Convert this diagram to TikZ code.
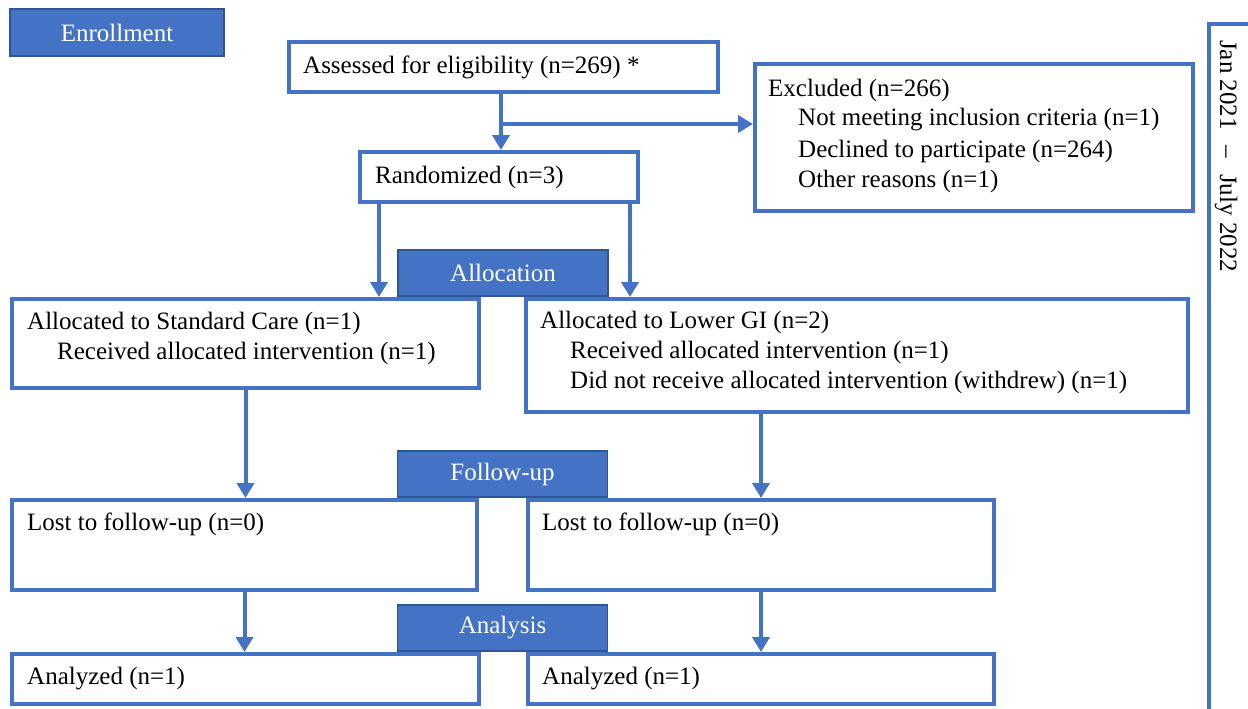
\documentclass[tikz,border=0pt]{standalone}
\usepackage{fontspec}
\setmainfont{Liberation Serif}
\usetikzlibrary{arrows.meta}
\definecolor{cblue}{HTML}{4472C4}
\definecolor{cdark}{HTML}{2F5597}
\begin{document}
\begin{tikzpicture}[x=1pt,y=-1pt,
  box/.style={draw=cblue, line width=4pt, fill=white, inner sep=0pt},
  phase/.style={draw=cdark, line width=1.5pt, fill=cblue, text=white, inner sep=0pt,
    minimum width=210pt, minimum height=46pt, font=\fontsize{25}{30}\selectfont},
  txt/.style={anchor=west, inner sep=0pt, font=\fontsize{25}{30}\selectfont},
  arr/.style={draw=cblue, line width=4pt, -{Triangle[width=17pt,length=15pt]}}]
\useasboundingbox (0,0) rectangle (1248,709);
\begin{scope}
\clip (0,0) rectangle (1248,709);
\draw[cblue, line width=4pt, fill=white] (1209,24) rectangle (1270,730);
\end{scope}
\node[rotate=-90, anchor=west, inner sep=0pt, font=\fontsize{25}{30}\selectfont] (dates) at (1226,40) {Jan 2021\hspace{16pt}–\hspace{16pt}July 2022};
% boxes
\node[box, minimum width=429pt, minimum height=50pt] (assess) at (503.5,67) {};
\node[box, minimum width=438pt, minimum height=147pt] (excl) at (974,137.5) {};
\node[box, minimum width=278pt, minimum height=50pt] (rand) at (499,177) {};
\node[box, minimum width=467pt, minimum height=89pt] (sc) at (245.5,343.5) {};
\node[box, minimum width=662pt, minimum height=113pt] (lgi) at (857,355.5) {};
\node[box, minimum width=465pt, minimum height=90pt] (lostL) at (244.5,545) {};
\node[box, minimum width=466pt, minimum height=90pt] (lostR) at (761,545) {};
\node[box, minimum width=467pt, minimum height=50pt] (anL) at (245.5,679) {};
\node[box, minimum width=466pt, minimum height=50pt] (anR) at (761,679) {};
% texts
\node[txt] (t1) at (303,67) {Assessed for eligibility (n=269) *};
\node[txt] (t2) at (768,90) {Excluded (n=266)};
\node[txt] (t3) at (798,120) {Not meeting inclusion criteria (n=1)};
\node[txt] (t4) at (798,151) {Declined to participate (n=264)};
\node[txt] (t5) at (798,181) {Other reasons (n=1)};
\node[txt] (t6) at (375,177) {Randomized (n=3)};
\node[txt] (t7) at (27,323) {Allocated to Standard Care (n=1)};
\node[txt] (t8) at (57,353) {Received allocated intervention (n=1)};
\node[txt] (t9) at (540,322) {Allocated to Lower GI (n=2)};
\node[txt] (t10) at (570,352) {Received allocated intervention (n=1)};
\node[txt] (t11) at (570,382) {Did not receive allocated intervention (withdrew) (n=1)};
\node[txt] (t12) at (27,524) {Lost to follow-up (n=0)};
\node[txt] (t13) at (542,524) {Lost to follow-up (n=0)};
\node[txt] (t14) at (27,679) {Analyzed (n=1)};
\node[txt] (t15) at (542,679) {Analyzed (n=1)};
% connectors
\coordinate (c1) at (501,0);
\coordinate (br) at (501,124);
\draw[arr] (assess.south -| c1) -- (rand.north -| c1);
\draw[arr] (br) -- (excl.west |- br);
\draw[arr] ([xshift=21pt]rand.south west) -- ([xshift=21pt]rand.south west |- sc.north);
\draw[arr] ([xshift=-10pt]rand.south east) -- ([xshift=-10pt]rand.south east |- lgi.north);
\draw[arr] (sc.south) -- (sc.south |- lostL.north);
\draw[arr] (lgi.south -| lostR.north) -- (lostR.north);
\draw[arr] (lostL.south) -- (lostL.south |- anL.north);
\draw[arr] (lostR.south) -- (anR.north);
% phase labels
\node[phase, minimum width=214pt, minimum height=47pt] (enr) at (117,32.5) {Enrollment};
\node[phase] (alloc) at (503,273) {Allocation};
\node[phase] (fup) at (502.5,474) {Follow-up};
\node[phase] (ana) at (502.5,628) {Analysis};
\end{tikzpicture}
\end{document}
